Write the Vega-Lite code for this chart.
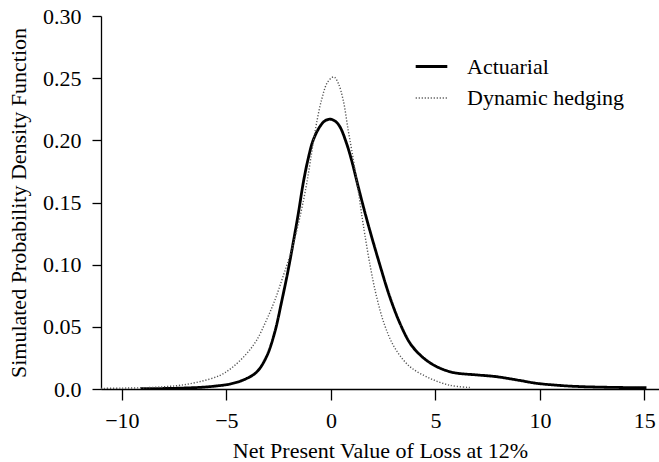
{
  "$schema": "https://vega.github.io/schema/vega-lite/v6.json",
  "autosize": "none",
  "width": 558,
  "height": 373,
  "padding": {"left": 101, "top": 16, "right": 0, "bottom": 73},
  "background": "white",
  "config": {
    "view": {"stroke": null},
    "font": "Liberation Serif",
    "axis": {
      "labelFont": "Liberation Serif",
      "titleFont": "Liberation Serif",
      "labelFontSize": 22,
      "titleFontSize": 22,
      "titleFontWeight": "normal",
      "labelColor": "black",
      "titleColor": "black",
      "domainColor": "black",
      "tickColor": "black",
      "domainWidth": 1.3,
      "tickWidth": 1.3,
      "grid": false
    },
    "legend": {
      "labelFont": "Liberation Serif",
      "labelFontSize": 22,
      "labelColor": "black"
    }
  },
  "datasets": {
    "curves": [
      {"series": "Actuarial", "x": -9.1, "y": 0.0002},
      {"series": "Actuarial", "x": -8.0, "y": 0.0004},
      {"series": "Actuarial", "x": -7.0, "y": 0.0008},
      {"series": "Actuarial", "x": -6.3, "y": 0.0013},
      {"series": "Actuarial", "x": -5.5, "y": 0.0024},
      {"series": "Actuarial", "x": -4.83, "y": 0.004},
      {"series": "Actuarial", "x": -4.2, "y": 0.0072},
      {"series": "Actuarial", "x": -3.56, "y": 0.0135},
      {"series": "Actuarial", "x": -3.08, "y": 0.026},
      {"series": "Actuarial", "x": -2.68, "y": 0.046},
      {"series": "Actuarial", "x": -2.36, "y": 0.070},
      {"series": "Actuarial", "x": -2.04, "y": 0.096},
      {"series": "Actuarial", "x": -1.8, "y": 0.118},
      {"series": "Actuarial", "x": -1.56, "y": 0.141},
      {"series": "Actuarial", "x": -1.32, "y": 0.166},
      {"series": "Actuarial", "x": -1.09, "y": 0.185},
      {"series": "Actuarial", "x": -0.85, "y": 0.200},
      {"series": "Actuarial", "x": -0.53, "y": 0.211},
      {"series": "Actuarial", "x": -0.3, "y": 0.2155},
      {"series": "Actuarial", "x": -0.05, "y": 0.217},
      {"series": "Actuarial", "x": 0.2, "y": 0.2155},
      {"series": "Actuarial", "x": 0.43, "y": 0.211},
      {"series": "Actuarial", "x": 0.75, "y": 0.1975},
      {"series": "Actuarial", "x": 0.99, "y": 0.184},
      {"series": "Actuarial", "x": 1.31, "y": 0.1626},
      {"series": "Actuarial", "x": 1.74, "y": 0.135},
      {"series": "Actuarial", "x": 2.34, "y": 0.100},
      {"series": "Actuarial", "x": 2.82, "y": 0.074},
      {"series": "Actuarial", "x": 3.3, "y": 0.053},
      {"series": "Actuarial", "x": 3.78, "y": 0.037},
      {"series": "Actuarial", "x": 4.2, "y": 0.0285},
      {"series": "Actuarial", "x": 4.58, "y": 0.023},
      {"series": "Actuarial", "x": 5.0, "y": 0.0185},
      {"series": "Actuarial", "x": 5.54, "y": 0.0147},
      {"series": "Actuarial", "x": 6.0, "y": 0.0128},
      {"series": "Actuarial", "x": 7.0, "y": 0.0113},
      {"series": "Actuarial", "x": 7.93, "y": 0.0099},
      {"series": "Actuarial", "x": 9.0, "y": 0.007},
      {"series": "Actuarial", "x": 9.84, "y": 0.0046},
      {"series": "Actuarial", "x": 11.0, "y": 0.0028},
      {"series": "Actuarial", "x": 12.0, "y": 0.0019},
      {"series": "Actuarial", "x": 13.5, "y": 0.0013},
      {"series": "Actuarial", "x": 15.1, "y": 0.001},
      {"series": "Dynamic hedging", "x": -11.0, "y": 0.0005},
      {"series": "Dynamic hedging", "x": -10.0, "y": 0.0007},
      {"series": "Dynamic hedging", "x": -9.0, "y": 0.001},
      {"series": "Dynamic hedging", "x": -8.0, "y": 0.0018},
      {"series": "Dynamic hedging", "x": -7.2, "y": 0.003},
      {"series": "Dynamic hedging", "x": -6.3, "y": 0.0058},
      {"series": "Dynamic hedging", "x": -5.3, "y": 0.011},
      {"series": "Dynamic hedging", "x": -4.67, "y": 0.018},
      {"series": "Dynamic hedging", "x": -4.03, "y": 0.0285},
      {"series": "Dynamic hedging", "x": -3.56, "y": 0.039},
      {"series": "Dynamic hedging", "x": -3.08, "y": 0.0555},
      {"series": "Dynamic hedging", "x": -2.68, "y": 0.0715},
      {"series": "Dynamic hedging", "x": -2.28, "y": 0.091},
      {"series": "Dynamic hedging", "x": -1.88, "y": 0.1117},
      {"series": "Dynamic hedging", "x": -1.48, "y": 0.1385},
      {"series": "Dynamic hedging", "x": -1.16, "y": 0.165},
      {"series": "Dynamic hedging", "x": -0.92, "y": 0.190},
      {"series": "Dynamic hedging", "x": -0.77, "y": 0.206},
      {"series": "Dynamic hedging", "x": -0.45, "y": 0.2323},
      {"series": "Dynamic hedging", "x": -0.15, "y": 0.247},
      {"series": "Dynamic hedging", "x": 0.14, "y": 0.251},
      {"series": "Dynamic hedging", "x": 0.35, "y": 0.246},
      {"series": "Dynamic hedging", "x": 0.59, "y": 0.2323},
      {"series": "Dynamic hedging", "x": 0.83, "y": 0.208},
      {"series": "Dynamic hedging", "x": 1.07, "y": 0.185},
      {"series": "Dynamic hedging", "x": 1.23, "y": 0.168},
      {"series": "Dynamic hedging", "x": 1.39, "y": 0.150},
      {"series": "Dynamic hedging", "x": 1.55, "y": 0.132},
      {"series": "Dynamic hedging", "x": 1.87, "y": 0.100},
      {"series": "Dynamic hedging", "x": 2.19, "y": 0.074},
      {"series": "Dynamic hedging", "x": 2.58, "y": 0.051},
      {"series": "Dynamic hedging", "x": 3.06, "y": 0.033},
      {"series": "Dynamic hedging", "x": 3.78, "y": 0.018},
      {"series": "Dynamic hedging", "x": 4.74, "y": 0.0086},
      {"series": "Dynamic hedging", "x": 5.69, "y": 0.003},
      {"series": "Dynamic hedging", "x": 6.65, "y": 0.0012}
    ]
  },
  "layer": [
    {
      "mark": {"type": "rule", "color": "black", "strokeWidth": 1.3},
      "encoding": {"y": {"datum": 0.3, "type": "quantitative"}}
    },
    {
      "data": {"name": "curves"},
      "mark": {"type": "line", "interpolate": "catmull-rom", "clip": true},
      "encoding": {
        "x": {
          "field": "x", "type": "quantitative",
          "scale": {"domain": [-11.0, 15.7], "nice": false, "zero": false},
          "axis": {
            "title": "Net Present Value of Loss at 12%",
            "values": [-10, -5, 0, 5, 10, 15],
            "tickSize": 11,
            "labelPadding": 10,
            "titlePadding": 9,
            "labelFlush": false
          }
        },
        "y": {
          "field": "y", "type": "quantitative",
          "scale": {"domain": [0, 0.3], "nice": false},
          "axis": {
            "title": "Simulated Probability Density Function",
            "values": [0, 0.05, 0.1, 0.15, 0.2, 0.25, 0.3],
            "labelExpr": "datum.value == 0 ? '0.0' : format(datum.value, '.2f')",
            "tickSize": 9,
            "labelPadding": 11,
            "titlePadding": 12,
            "labelFlush": false
          }
        },
        "color": {
          "field": "series", "type": "nominal",
          "scale": {"domain": ["Actuarial", "Dynamic hedging"], "range": ["black", "#555555"]},
          "legend": {
            "title": null,
            "orient": "none",
            "legendX": 313,
            "legendY": 33,
            "symbolType": "stroke",
            "symbolSize": 1000,
            "labelOffset": 18,
            "rowPadding": 3,
            "padding": 0,
            "symbolStrokeColor": "black"
          }
        },
        "strokeDash": {
          "field": "series", "type": "nominal",
          "scale": {"domain": ["Actuarial", "Dynamic hedging"], "range": [[1, 0], [1.2, 1.8]]},
          "legend": null
        },
        "strokeWidth": {
          "field": "series", "type": "nominal",
          "scale": {"domain": ["Actuarial", "Dynamic hedging"], "range": [2.8, 1.4]},
          "legend": null
        }
      }
    }
  ]
}
